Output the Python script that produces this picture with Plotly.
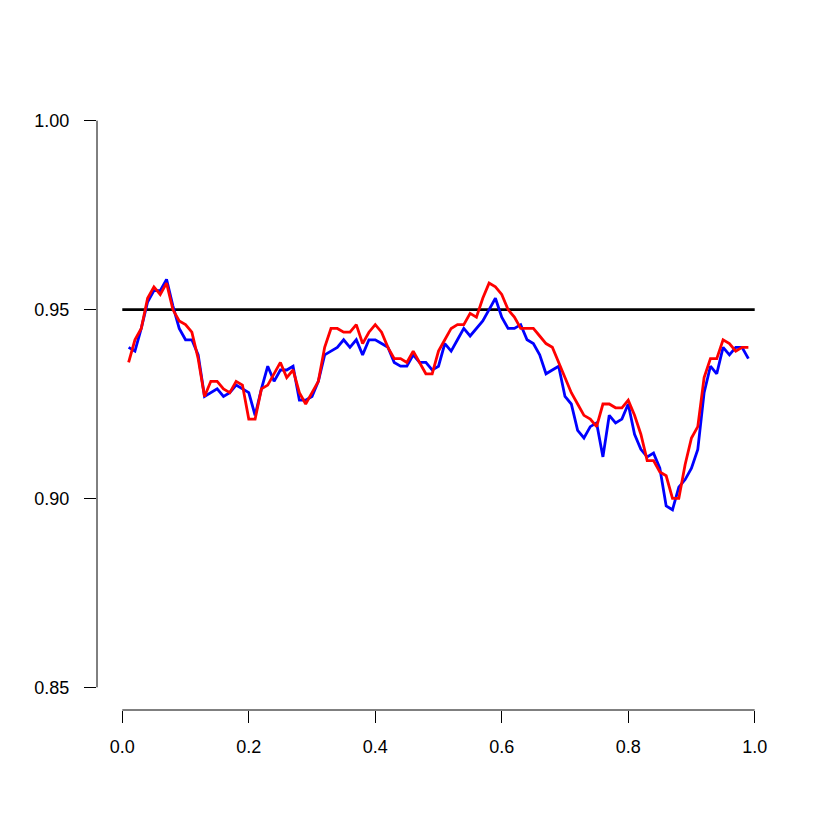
import plotly.graph_objects as go

x_vals = [round(i / 100, 2) for i in range(1, 100)]

blue_vals = [
    0.940, 0.939, 0.945, 0.952, 0.955, 0.955, 0.958, 0.951, 0.945, 0.942,
    0.942, 0.938, 0.927, 0.928, 0.929, 0.927, 0.928, 0.930, 0.929, 0.928,
    0.922, 0.929, 0.935, 0.931, 0.934, 0.934, 0.935, 0.926, 0.926, 0.927,
    0.931, 0.938, 0.939, 0.940, 0.942, 0.940, 0.942, 0.938, 0.942, 0.942,
    0.941, 0.940, 0.936, 0.935, 0.935, 0.938, 0.936, 0.936, 0.934, 0.935,
    0.941, 0.939, 0.942, 0.945, 0.943, 0.945, 0.947, 0.950, 0.953, 0.948,
    0.945, 0.945, 0.946, 0.942, 0.941, 0.938, 0.933, 0.934, 0.935, 0.927,
    0.925, 0.918, 0.916, 0.919, 0.920, 0.911, 0.922, 0.920, 0.921, 0.925,
    0.917, 0.913, 0.911, 0.912, 0.908, 0.898, 0.897, 0.903, 0.905, 0.908,
    0.913, 0.928, 0.935, 0.933, 0.940, 0.938, 0.940, 0.940, 0.937,
]

red_vals = [
    0.936, 0.942, 0.945, 0.953, 0.956, 0.954, 0.957, 0.950, 0.947, 0.946,
    0.944, 0.937, 0.927, 0.931, 0.931, 0.929, 0.928, 0.931, 0.930, 0.921,
    0.921, 0.929, 0.930, 0.933, 0.936, 0.932, 0.934, 0.928, 0.925, 0.928,
    0.931, 0.940, 0.945, 0.945, 0.944, 0.944, 0.946, 0.941, 0.944, 0.946,
    0.944, 0.940, 0.937, 0.937, 0.936, 0.939, 0.936, 0.933, 0.933, 0.939,
    0.942, 0.945, 0.946, 0.946, 0.949, 0.948, 0.953, 0.957, 0.956, 0.954,
    0.950, 0.948, 0.945, 0.945, 0.945, 0.943, 0.941, 0.940, 0.936, 0.932,
    0.928, 0.925, 0.922, 0.921, 0.919, 0.925, 0.925, 0.924, 0.924, 0.926,
    0.922, 0.917, 0.910, 0.910, 0.907, 0.906, 0.900, 0.900, 0.909, 0.916,
    0.919, 0.932, 0.937, 0.937, 0.942, 0.941, 0.939, 0.940, 0.940,
]

ref_x = [0.0, 1.0]
ref_y = [0.95, 0.95]

x_ticks = [0.0, 0.2, 0.4, 0.6, 0.8, 1.0]
x_tick_text = ["0.0", "0.2", "0.4", "0.6", "0.8", "1.0"]
y_ticks = [0.85, 0.90, 0.95, 1.00]
y_tick_text = ["0.85", "0.90", "0.95", "1.00"]

font_family = "Liberation Sans, Arial, Helvetica, sans-serif"

fig = go.Figure()
fig.add_trace(go.Scatter(x=ref_x, y=ref_y, mode="lines",
                         line=dict(color="black", width=2.8), showlegend=False))
fig.add_trace(go.Scatter(x=x_vals, y=blue_vals, mode="lines",
                         line=dict(color="#0000FF", width=2.8), showlegend=False))
fig.add_trace(go.Scatter(x=x_vals, y=red_vals, mode="lines",
                         line=dict(color="#FF0000", width=2.8), showlegend=False))

# R-style axis lines spanning first to last tick
fig.add_shape(type="line", xref="x", yref="paper", x0=x_ticks[0], x1=x_ticks[-1],
              y0=0, y1=0, line=dict(color="black", width=1))
fig.add_shape(type="line", xref="paper", yref="y", x0=0, x1=0,
              y0=y_ticks[0], y1=y_ticks[-1], line=dict(color="black", width=1))

fig.update_layout(
    width=830, height=830, autosize=False,
    margin=dict(l=89, r=58, t=90, b=128, pad=0),
    paper_bgcolor="white", plot_bgcolor="white",
    font=dict(family=font_family, size=18, color="black"),
    xaxis=dict(range=[-0.04, 1.04], tickvals=x_ticks, ticktext=x_tick_text,
               ticks="outside", ticklen=12, tickwidth=1, tickcolor="black",
               showgrid=False, zeroline=False, showline=False,
               ticklabelstandoff=8),
    yaxis=dict(range=[0.844, 1.006], tickvals=y_ticks, ticktext=y_tick_text,
               ticks="outside", ticklen=12, tickwidth=1, tickcolor="black",
               showgrid=False, zeroline=False, showline=False,
               ticklabelstandoff=11),
)

fig.write_html("out.html")
